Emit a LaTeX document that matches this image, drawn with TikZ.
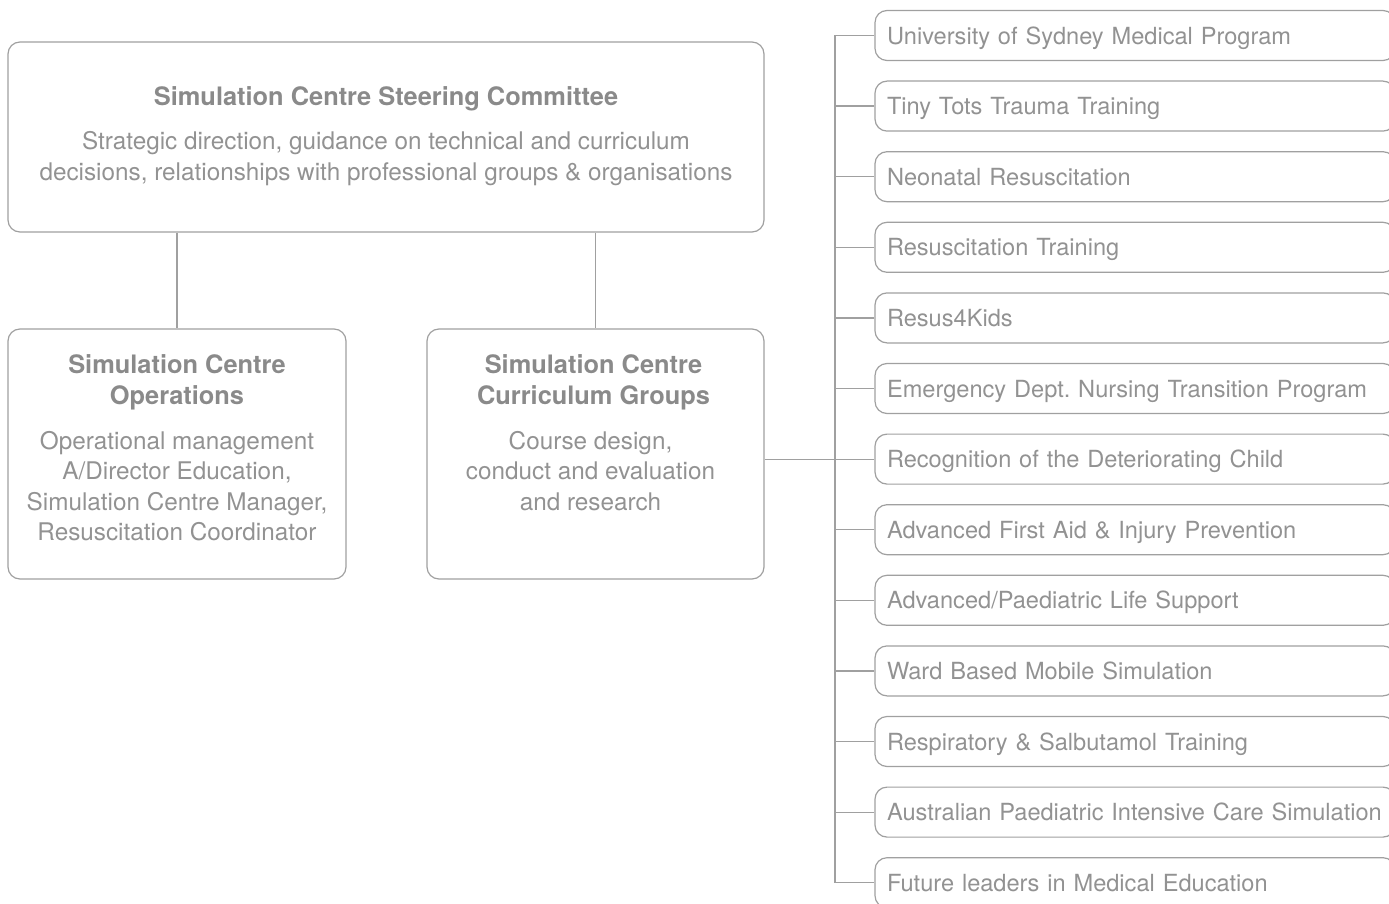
\documentclass[tikz,border=0pt]{standalone}
\usepackage{fontspec}
\setmainfont{TeX Gyre Heros}
\usepackage{tikz}
\usetikzlibrary{positioning}
\definecolor{framegray}{RGB}{160,160,160}
\definecolor{textgray}{RGB}{146,146,146}
\definecolor{titlegray}{RGB}{138,138,138}
\tikzstyle{every node}+=[inner sep=0pt]
\tikzstyle{box} = [rectangle, draw=framegray, line width=1.2pt, rounded corners=12pt]
\tikzstyle{title} = [font=\fontsize{25.4}{31}\selectfont\bfseries, text=titlegray, align=center]
\tikzstyle{body} = [font=\fontsize{24.3}{30.5}\selectfont, text=textgray, align=center]
\tikzstyle{course} = [box, font=\fontsize{23.6}{28}\selectfont, text=textgray, text width=496pt, inner xsep=12pt, minimum height=50pt, text height=18pt, text depth=0.8pt, align=left]
\tikzstyle{line} = [draw=framegray, line width=1.2pt]

\begin{document}
\begin{tikzpicture}[x=1pt, y=-1pt, node distance=70.6pt]
            \useasboundingbox (0,0) rectangle (1389,904);
            \clip (0,0) rectangle (1389,904);
            % Place nodes
            \node [box, minimum width=756pt, minimum height=190pt] (steer) at (386,137) {};
            \node [title, below=45pt of steer.north] (steertitle) {Simulation Centre Steering Committee};
            \node [body, below=20pt of steertitle] (steerbody) {Strategic direction, guidance on technical and curriculum\\decisions, relationships with professional groups \& organisations};
            \node [box, minimum width=338pt, minimum height=250pt] (ops) at (177,454) {};
            \node [title, below=26pt of ops.north] (opstitle) {Simulation Centre\\Operations};
            \node [body, below=20.5pt of opstitle] (opsbody) {Operational management\\A/Director Education,\\Simulation Centre Manager,\\Resuscitation Coordinator};
            \node [box, minimum width=337pt, minimum height=250pt] (curr) at (595.5,454) {};
            \node [title, below=26pt of curr.north, xshift=-2pt] (currtitle) {Simulation Centre\\Curriculum Groups};
            \node [body, below=20.5pt of currtitle, xshift=-3pt] (currbody) {Course design,\\conduct and evaluation\\and research};
            % Courses
            \node [course] (r1) at (1135,35.5) {University of Sydney Medical Program};
            \node [course, below of=r1] (r2) {Tiny Tots Trauma Training};
            \node [course, below of=r2] (r3) {Neonatal Resuscitation};
            \node [course, below of=r3] (r4) {Resuscitation Training};
            \node [course, below of=r4] (r5) {Resus4Kids};
            \node [course, below of=r5] (r6) {Emergency Dept.\ Nursing Transition Program};
            \node [course, below of=r6] (r7) {Recognition of the Deteriorating Child};
            \node [course, below of=r7] (r8) {Advanced First Aid \& Injury Prevention};
            \node [course, below of=r8] (r9) {Advanced/Paediatric Life Support};
            \node [course, below of=r9] (r10) {Ward Based Mobile Simulation};
            \node [course, below of=r10] (r11) {Respiratory \& Salbutamol Training};
            \node [course, below of=r11] (r12) {Australian Paediatric Intensive Care Simulation};
            \node [course, below of=r12] (r13) {Future leaders in Medical Education};
            \coordinate (bus) at (835,35.5);
            % Draw edges
            \path [line] (steer.south -| ops.north) -- (ops.north);
            \path [line] (steer.south -| curr.north) -- (curr.north);
            \path [line] (curr.east |- r7.west) -- (r7.west);
            \path [line] (r1.west) -- (bus) -- (bus |- r13.west) -- (r13.west);
            \path [line] (r2.west) -- (r2.west -| bus);
            \path [line] (r3.west) -- (r3.west -| bus);
            \path [line] (r4.west) -- (r4.west -| bus);
            \path [line] (r5.west) -- (r5.west -| bus);
            \path [line] (r6.west) -- (r6.west -| bus);
            \path [line] (r8.west) -- (r8.west -| bus);
            \path [line] (r9.west) -- (r9.west -| bus);
            \path [line] (r10.west) -- (r10.west -| bus);
            \path [line] (r11.west) -- (r11.west -| bus);
            \path [line] (r12.west) -- (r12.west -| bus);
          \end{tikzpicture}
\end{document}
